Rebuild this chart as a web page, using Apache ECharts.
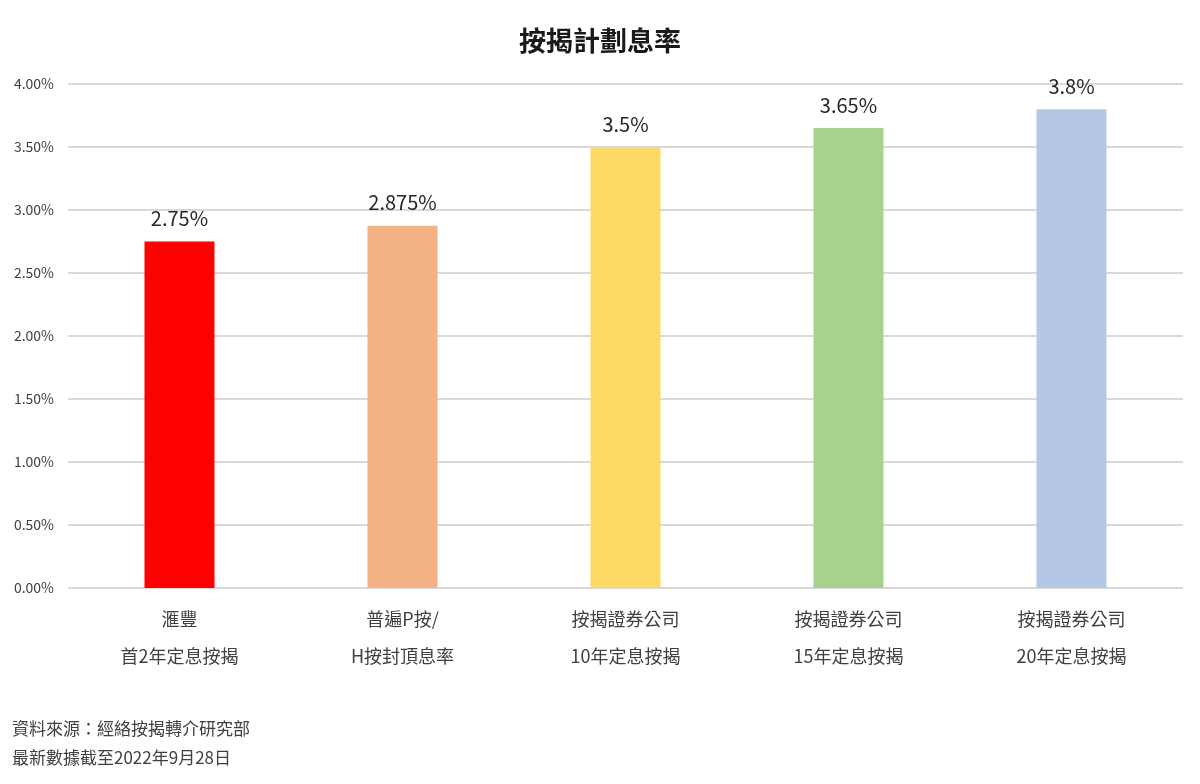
<!DOCTYPE html>
<html><head><meta charset="utf-8">
<script src="https://cdn.jsdelivr.net/npm/echarts@6/dist/echarts.min.js"></script>
<style>html,body{margin:0;padding:0;background:#fff}#c{width:1200px;height:784px}</style>
</head><body><div id="c"></div>
<script>
const categories = ['滙豐\n首2年定息按揭', '普遍P按/\nH按封頂息率', '按揭證券公司\n10年定息按揭', '按揭證券公司\n15年定息按揭', '按揭證券公司\n20年定息按揭'];
const rates = [2.75, 2.875, 3.5, 3.65, 3.8];
const barColors = ['#FF0000', '#F4B183', '#FFD966', '#A9D18E', '#B4C7E7'];
const yTicks = { min: 0, max: 4, interval: 0.5 };
const titleText = '按揭計劃息率';
const notes = ['資料來源：經絡按揭轉介研究部', '最新數據截至2022年9月28日'];

const font = '"Noto Sans CJK TC", "Noto Sans", sans-serif';
const chart = echarts.init(document.getElementById('c'));
chart.setOption({
  backgroundColor: '#fff',
  animation: false,
  title: {
    text: titleText, left: 'center', top: 22,
    textStyle: { fontFamily: font, fontSize: 27, fontWeight: 'bold', color: '#1a1a1a' }
  },
  graphic: notes.map((t, i) => ({
    type: 'text', left: 12, top: 720 + i * 29,
    style: { text: t, fontFamily: font, fontSize: 17, fill: '#404040' }
  })),
  grid: { left: 68, right: 17, top: 84, bottom: 196, containLabel: false },
  xAxis: {
    type: 'category', data: categories,
    axisLine: { show: false }, axisTick: { show: false },
    axisLabel: { fontFamily: font, fontSize: 18, color: '#404040', lineHeight: 37, margin: 13 }
  },
  yAxis: {
    type: 'value', min: yTicks.min, max: yTicks.max, interval: yTicks.interval,
    axisLine: { show: false }, axisTick: { show: false },
    splitLine: { lineStyle: { color: '#d9d9d9', width: 2 } },
    axisLabel: { fontFamily: font, fontSize: 14, color: '#404040', margin: 14,
      formatter: v => v.toFixed(2) + '%' }
  },
  series: [{
    type: 'bar', barWidth: 70,
    data: rates.map((v, i) => ({ value: v, itemStyle: { color: barColors[i] } })),
    label: { show: true, position: 'top', distance: 13, fontFamily: font, fontSize: 20,
      color: '#262626', formatter: p => p.value + '%' }
  }]
});
</script></body></html>
